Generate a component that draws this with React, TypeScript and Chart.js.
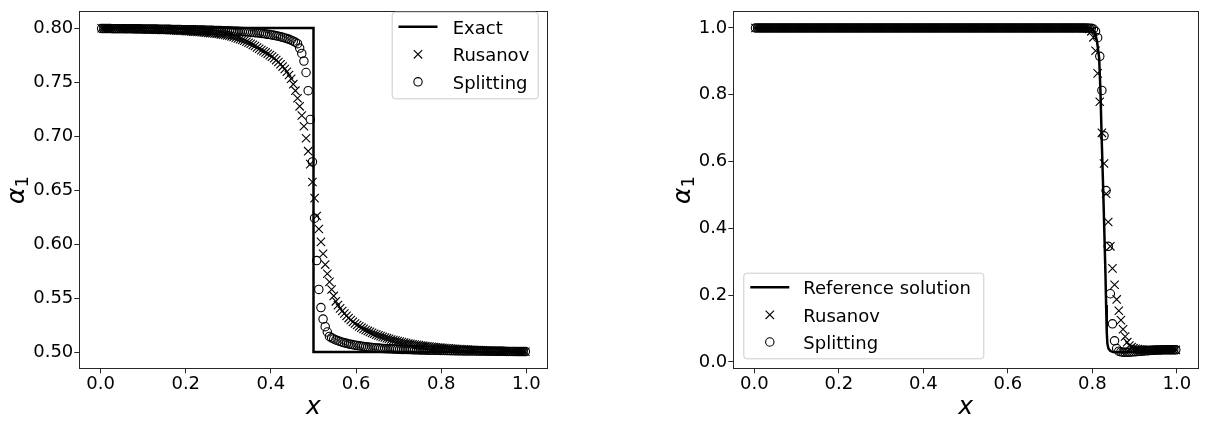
import React, { useEffect, useRef } from "react";
import { Chart, registerables } from "chart.js";

Chart.register(...registerables);

const FONT = "'DejaVu Sans', 'Liberation Sans', sans-serif";
const H = 421;

// ---------- data ----------
const xGrid = [
  0.0025, 0.0075, 0.0125, 0.0175, 0.0225, 0.0275, 0.0325, 0.0375, 0.0425, 0.0475,
  0.0525, 0.0575, 0.0625, 0.0675, 0.0725, 0.0775, 0.0825, 0.0875, 0.0925, 0.0975,
  0.1025, 0.1075, 0.1125, 0.1175, 0.1225, 0.1275, 0.1325, 0.1375, 0.1425, 0.1475,
  0.1525, 0.1575, 0.1625, 0.1675, 0.1725, 0.1775, 0.1825, 0.1875, 0.1925, 0.1975,
  0.2025, 0.2075, 0.2125, 0.2175, 0.2225, 0.2275, 0.2325, 0.2375, 0.2425, 0.2475,
  0.2525, 0.2575, 0.2625, 0.2675, 0.2725, 0.2775, 0.2825, 0.2875, 0.2925, 0.2975,
  0.3025, 0.3075, 0.3125, 0.3175, 0.3225, 0.3275, 0.3325, 0.3375, 0.3425, 0.3475,
  0.3525, 0.3575, 0.3625, 0.3675, 0.3725, 0.3775, 0.3825, 0.3875, 0.3925, 0.3975,
  0.4025, 0.4075, 0.4125, 0.4175, 0.4225, 0.4275, 0.4325, 0.4375, 0.4425, 0.4475,
  0.4525, 0.4575, 0.4625, 0.4675, 0.4725, 0.4775, 0.4825, 0.4875, 0.4925, 0.4975,
  0.5025, 0.5075, 0.5125, 0.5175, 0.5225, 0.5275, 0.5325, 0.5375, 0.5425, 0.5475,
  0.5525, 0.5575, 0.5625, 0.5675, 0.5725, 0.5775, 0.5825, 0.5875, 0.5925, 0.5975,
  0.6025, 0.6075, 0.6125, 0.6175, 0.6225, 0.6275, 0.6325, 0.6375, 0.6425, 0.6475,
  0.6525, 0.6575, 0.6625, 0.6675, 0.6725, 0.6775, 0.6825, 0.6875, 0.6925, 0.6975,
  0.7025, 0.7075, 0.7125, 0.7175, 0.7225, 0.7275, 0.7325, 0.7375, 0.7425, 0.7475,
  0.7525, 0.7575, 0.7625, 0.7675, 0.7725, 0.7775, 0.7825, 0.7875, 0.7925, 0.7975,
  0.8025, 0.8075, 0.8125, 0.8175, 0.8225, 0.8275, 0.8325, 0.8375, 0.8425, 0.8475,
  0.8525, 0.8575, 0.8625, 0.8675, 0.8725, 0.8775, 0.8825, 0.8875, 0.8925, 0.8975,
  0.9025, 0.9075, 0.9125, 0.9175, 0.9225, 0.9275, 0.9325, 0.9375, 0.9425, 0.9475,
  0.9525, 0.9575, 0.9625, 0.9675, 0.9725, 0.9775, 0.9825, 0.9875, 0.9925, 0.9975,
];

const leftRusanov = [
  0.7998, 0.7997, 0.7997, 0.7996, 0.7996, 0.7996, 0.7996, 0.7995, 0.7995, 0.7994,
  0.7994, 0.7994, 0.7993, 0.7992, 0.7992, 0.7992, 0.7991, 0.7991, 0.799, 0.7989,
  0.7989, 0.7988, 0.7987, 0.7987, 0.7986, 0.7985, 0.7985, 0.7984, 0.7983, 0.7982,
  0.7982, 0.7981, 0.798, 0.7979, 0.7978, 0.7977, 0.7976, 0.7975, 0.7974, 0.7973,
  0.7971, 0.797, 0.7968, 0.7967, 0.7966, 0.7964, 0.7963, 0.7961, 0.7959, 0.7957,
  0.7955, 0.7953, 0.7951, 0.7949, 0.7947, 0.7944, 0.7941, 0.7938, 0.7936, 0.7932,
  0.7929, 0.7923, 0.7917, 0.7911, 0.7904, 0.7897, 0.7889, 0.7882, 0.7873, 0.7864,
  0.7854, 0.7844, 0.7833, 0.782, 0.7808, 0.7795, 0.7785, 0.7774, 0.7762, 0.7749,
  0.7735, 0.772, 0.7703, 0.7685, 0.7665, 0.7643, 0.762, 0.7595, 0.7565, 0.753,
  0.748, 0.742, 0.735, 0.7275, 0.719, 0.709, 0.698, 0.686, 0.674, 0.6575,
  0.6425, 0.626, 0.614, 0.602, 0.591, 0.581, 0.5725, 0.565, 0.558, 0.552,
  0.547, 0.5435, 0.5405, 0.538, 0.5357, 0.5335, 0.5315, 0.5297, 0.528, 0.5265,
  0.5251, 0.5238, 0.5226, 0.5215, 0.5205, 0.5196, 0.5187, 0.5178, 0.517, 0.5162,
  0.5155, 0.5148, 0.5141, 0.5135, 0.5129, 0.5123, 0.5117, 0.5112, 0.5107, 0.5102,
  0.5097, 0.5092, 0.5088, 0.5084, 0.508, 0.5076, 0.5073, 0.507, 0.5067, 0.5064,
  0.5061, 0.5058, 0.5056, 0.5053, 0.5051, 0.5049, 0.5047, 0.5045, 0.5043, 0.5041,
  0.5039, 0.5037, 0.5036, 0.5034, 0.5033, 0.5031, 0.503, 0.5029, 0.5027, 0.5026,
  0.5025, 0.5024, 0.5023, 0.5022, 0.5021, 0.502, 0.5019, 0.5018, 0.5017, 0.5016,
  0.5015, 0.5014, 0.5013, 0.5013, 0.5012, 0.5011, 0.5011, 0.501, 0.5009, 0.5009,
  0.5008, 0.5007, 0.5007, 0.5006, 0.5006, 0.5005, 0.5005, 0.5004, 0.5004, 0.5003,
];

const leftSplitting = [
  0.7995, 0.7995, 0.7995, 0.7995, 0.7995, 0.7994, 0.7994, 0.7994, 0.7994, 0.7994,
  0.7993, 0.7993, 0.7993, 0.7993, 0.7993, 0.7992, 0.7992, 0.7992, 0.7992, 0.7991,
  0.7991, 0.7991, 0.7991, 0.799, 0.799, 0.799, 0.799, 0.7989, 0.7989, 0.7989,
  0.7988, 0.7988, 0.7988, 0.7987, 0.7987, 0.7987, 0.7986, 0.7986, 0.7985, 0.7985,
  0.7985, 0.7984, 0.7984, 0.7983, 0.7983, 0.7982, 0.7982, 0.7981, 0.7981, 0.798,
  0.798, 0.7979, 0.7979, 0.7978, 0.7977, 0.7977, 0.7976, 0.7975, 0.7975, 0.7974,
  0.7973, 0.7972, 0.7971, 0.797, 0.7969, 0.7968, 0.7967, 0.7966, 0.7965, 0.7963,
  0.7961, 0.7959, 0.7957, 0.7955, 0.7953, 0.795, 0.7948, 0.7945, 0.7942, 0.7939,
  0.7936, 0.7932, 0.7928, 0.7924, 0.7919, 0.7914, 0.7908, 0.7902, 0.7895, 0.7887,
  0.7878, 0.7868, 0.7855, 0.7814, 0.7765, 0.7694, 0.7588, 0.742, 0.7153, 0.676,
  0.624, 0.5847, 0.558, 0.5412, 0.5306, 0.5235, 0.5186, 0.5145, 0.5132, 0.5122,
  0.5113, 0.5105, 0.5098, 0.5092, 0.5086, 0.5081, 0.5076, 0.5072, 0.5068, 0.5064,
  0.5061, 0.5058, 0.5055, 0.5052, 0.505, 0.5047, 0.5045, 0.5043, 0.5041, 0.5039,
  0.5037, 0.5035, 0.5034, 0.5033, 0.5032, 0.5031, 0.503, 0.5029, 0.5028, 0.5027,
  0.5026, 0.5025, 0.5025, 0.5024, 0.5023, 0.5023, 0.5022, 0.5021, 0.5021, 0.502,
  0.502, 0.5019, 0.5019, 0.5018, 0.5018, 0.5017, 0.5017, 0.5016, 0.5016, 0.5015,
  0.5015, 0.5015, 0.5014, 0.5014, 0.5013, 0.5013, 0.5013, 0.5012, 0.5012, 0.5012,
  0.5011, 0.5011, 0.5011, 0.501, 0.501, 0.501, 0.501, 0.5009, 0.5009, 0.5009,
  0.5009, 0.5008, 0.5008, 0.5008, 0.5008, 0.5007, 0.5007, 0.5007, 0.5007, 0.5007,
  0.5006, 0.5006, 0.5006, 0.5006, 0.5006, 0.5005, 0.5005, 0.5005, 0.5005, 0.5005,
];

const exactX = [0, 0.5, 0.5, 1.0];
const exactY = [0.8, 0.8, 0.5, 0.5];

const rightRusanov = [
  1, 1, 1, 1, 1, 1, 1, 1, 1, 1,
  1, 1, 1, 1, 1, 1, 1, 1, 1, 1,
  1, 1, 1, 1, 1, 1, 1, 1, 1, 1,
  1, 1, 1, 1, 1, 1, 1, 1, 1, 1,
  1, 1, 1, 1, 1, 1, 1, 1, 1, 1,
  1, 1, 1, 1, 1, 1, 1, 1, 1, 1,
  1, 1, 1, 1, 1, 1, 1, 1, 1, 1,
  1, 1, 1, 1, 1, 1, 1, 1, 1, 1,
  1, 1, 1, 1, 1, 1, 1, 1, 1, 1,
  1, 1, 1, 1, 1, 1, 1, 1, 1, 1,
  1, 1, 1, 1, 1, 1, 1, 1, 1, 1,
  1, 1, 1, 1, 1, 1, 1, 1, 1, 1,
  1, 1, 1, 1, 1, 1, 1, 1, 1, 1,
  1, 1, 1, 1, 1, 1, 1, 1, 1, 1,
  1, 1, 1, 1, 1, 1, 1, 1, 1, 1,
  1, 1, 1, 0.9999, 0.9998, 0.9996, 0.9993, 0.9985, 0.997, 0.99,
  0.972, 0.932, 0.864, 0.779, 0.686, 0.594, 0.5035, 0.419, 0.346, 0.28,
  0.231, 0.187, 0.153, 0.125, 0.0975, 0.076, 0.059, 0.049, 0.044, 0.041,
  0.039, 0.038, 0.037, 0.0365, 0.036, 0.036, 0.036, 0.036, 0.036, 0.036,
  0.036, 0.036, 0.036, 0.036, 0.036, 0.036, 0.036, 0.036, 0.036, 0.036,
];

const rightSplitting = [
  1, 1, 1, 1, 1, 1, 1, 1, 1, 1,
  1, 1, 1, 1, 1, 1, 1, 1, 1, 1,
  1, 1, 1, 1, 1, 1, 1, 1, 1, 1,
  1, 1, 1, 1, 1, 1, 1, 1, 1, 1,
  1, 1, 1, 1, 1, 1, 1, 1, 1, 1,
  1, 1, 1, 1, 1, 1, 1, 1, 1, 1,
  1, 1, 1, 1, 1, 1, 1, 1, 1, 1,
  1, 1, 1, 1, 1, 1, 1, 1, 1, 1,
  1, 1, 1, 1, 1, 1, 1, 1, 1, 1,
  1, 1, 1, 1, 1, 1, 1, 1, 1, 1,
  1, 1, 1, 1, 1, 1, 1, 1, 1, 1,
  1, 1, 1, 1, 1, 1, 1, 1, 1, 1,
  1, 1, 1, 1, 1, 1, 1, 1, 1, 1,
  1, 1, 1, 1, 1, 1, 1, 1, 1, 1,
  1, 1, 1, 1, 1, 1, 1, 1, 1, 1,
  1, 1, 1, 1, 1, 1, 1, 0.9998, 0.9995, 0.999,
  0.997, 0.99, 0.971, 0.915, 0.813, 0.677, 0.513, 0.346, 0.204, 0.114,
  0.063, 0.04, 0.032, 0.03, 0.029, 0.029, 0.029, 0.029, 0.0295, 0.03,
  0.0305, 0.031, 0.0315, 0.032, 0.0325, 0.033, 0.0335, 0.034, 0.0345, 0.035,
  0.0352, 0.0354, 0.0356, 0.036, 0.036, 0.036, 0.036, 0.036, 0.036, 0.036,
];

const refX = [0, 0.79, 0.8, 0.806, 0.811, 0.816, 0.819, 0.822, 0.8255, 0.8285, 0.831, 0.8325, 0.834, 0.8355, 0.838, 0.842, 0.849, 0.86, 0.88, 0.9, 0.95, 1.0];
const refY = [1, 1, 0.997, 0.988, 0.96, 0.91, 0.815, 0.67, 0.52, 0.38, 0.26, 0.17, 0.09, 0.055, 0.04, 0.033, 0.0295, 0.029, 0.029, 0.031, 0.035, 0.036];

const xTickValues = [0, 0.2, 0.4, 0.6, 0.8, 1.0];
const leftYTickValues = [0.5, 0.55, 0.6, 0.65, 0.7, 0.75, 0.8];
const rightYTickValues = [0, 0.2, 0.4, 0.6, 0.8, 1.0];

const leftLabels = ["Exact", "Rusanov", "Splitting"];
const rightLabels = ["Reference solution", "Rusanov", "Splitting"];

// ---------- layout ----------
type PanelCfg = {
  width: number;
  areaLeft: number; areaRight: number; areaTop: number; areaBottom: number;
  xMin: number; xMax: number; yMin: number; yMax: number;
  xTicks: number[]; yTicks: number[]; xDigits: number; yDigits: number;
  lineX: number[]; lineY: number[]; rus: number[]; spl: number[]; labels: string[];
  legend: { x: number; y: number; w: number; h: number; rows: number[]; h0: number; h1: number; textX: number };
  yTitleX: number; xTitleBaseline: number;
};

const leftPanel: PanelCfg = {
  width: 600,
  areaLeft: 79.3, areaRight: 547.7, areaTop: 2.7, areaBottom: 368.3,
  xMin: -0.05, xMax: 1.05, yMin: 0.485, yMax: 0.815,
  xTicks: xTickValues, yTicks: leftYTickValues, xDigits: 1, yDigits: 2,
  lineX: exactX, lineY: exactY, rus: leftRusanov, spl: leftSplitting, labels: leftLabels,
  legend: { x: 391.7, y: 11.7, w: 146, h: 86.6, rows: [26.8, 54.3, 81.8], h0: 398.5, h1: 437.5, textX: 452.7 },
  yTitleX: 24, xTitleBaseline: 414,
};

const rightPanel: PanelCfg = {
  width: 605,
  areaLeft: 133.3, areaRight: 602.7, areaTop: 2.7, areaBottom: 368.3,
  xMin: -0.05, xMax: 1.05, yMin: -0.0193, yMax: 1.0485,
  xTicks: xTickValues, yTicks: rightYTickValues, xDigits: 1, yDigits: 1,
  lineX: refX, lineY: refY, rus: rightRusanov, spl: rightSplitting, labels: rightLabels,
  legend: { x: 143.3, y: 272.7, w: 240, h: 85.6, rows: [287.3, 314.8, 342], h0: 150.3, h1: 189.3, textX: 203.3 },
  yTitleX: 90, xTitleBaseline: 414,
};

function roundRectPath(ctx: CanvasRenderingContext2D, x: number, y: number, w: number, h: number, r: number) {
  ctx.beginPath();
  ctx.moveTo(x + r, y);
  ctx.lineTo(x + w - r, y);
  ctx.arcTo(x + w, y, x + w, y + r, r);
  ctx.lineTo(x + w, y + h - r);
  ctx.arcTo(x + w, y + h, x + w - r, y + h, r);
  ctx.lineTo(x + r, y + h);
  ctx.arcTo(x, y + h, x, y + h - r, r);
  ctx.lineTo(x, y + r);
  ctx.arcTo(x, y, x + r, y, r);
  ctx.closePath();
}

function buildChart(canvas: HTMLCanvasElement, p: PanelCfg) {
  const tickFont = { family: FONT, size: 18 };
  const pts = (xs: number[], ys: number[]) => xs.map((x, i) => ({ x, y: ys[i] }));

  const decor = {
    id: "decor",
    afterDraw(chart: any) {
      const ctx: CanvasRenderingContext2D = chart.ctx;
      const a = chart.chartArea;
      ctx.save();
      // frame
      ctx.strokeStyle = "#262626";
      ctx.lineWidth = 1;
      const l = Math.floor(a.left) + 0.5, r = Math.floor(a.right) + 0.5;
      const t = Math.floor(a.top) + 0.5, b = Math.floor(a.bottom) + 0.5;
      ctx.strokeRect(l, t, r - l, b - t);

      // x title
      ctx.fillStyle = "#000";
      ctx.font = `italic 25px ${FONT}`;
      ctx.textAlign = "center";
      ctx.textBaseline = "alphabetic";
      ctx.fillText("x", (a.left + a.right) / 2, p.xTitleBaseline);

      // y title (alpha_1)
      ctx.save();
      ctx.translate(p.yTitleX, (a.top + a.bottom) / 2);
      ctx.rotate(-Math.PI / 2);
      ctx.textAlign = "left";
      ctx.font = `italic 25px ${FONT}`;
      const wa = ctx.measureText("α").width;
      ctx.font = `18px ${FONT}`;
      const w1 = ctx.measureText("1").width;
      const start = -(wa + w1) / 2;
      ctx.font = `italic 25px ${FONT}`;
      ctx.fillText("α", start, 0);
      ctx.font = `18px ${FONT}`;
      ctx.fillText("1", start + wa, 4);
      ctx.restore();

      // legend
      const L = p.legend;
      roundRectPath(ctx, L.x + 0.5, L.y + 0.5, L.w, L.h, 3);
      ctx.fillStyle = "rgba(255,255,255,0.8)";
      ctx.fill();
      ctx.strokeStyle = "#cccccc";
      ctx.lineWidth = 1;
      ctx.stroke();

      const cx = (L.h0 + L.h1) / 2;
      ctx.strokeStyle = "#000";
      ctx.beginPath();
      ctx.lineWidth = 2.5;
      ctx.moveTo(L.h0, L.rows[0]);
      ctx.lineTo(L.h1, L.rows[0]);
      ctx.stroke();
      const s = 4.2;
      ctx.lineWidth = 1.1;
      ctx.beginPath();
      ctx.moveTo(cx - s, L.rows[1] - s);
      ctx.lineTo(cx + s, L.rows[1] + s);
      ctx.moveTo(cx + s, L.rows[1] - s);
      ctx.lineTo(cx - s, L.rows[1] + s);
      ctx.stroke();
      ctx.beginPath();
      ctx.arc(cx, L.rows[2], 4.2, 0, Math.PI * 2);
      ctx.stroke();

      ctx.fillStyle = "#000";
      ctx.font = `18px ${FONT}`;
      ctx.textAlign = "left";
      ctx.textBaseline = "alphabetic";
      p.labels.forEach((lab, i) => ctx.fillText(lab, L.textX, L.rows[i] + 7));
      ctx.restore();
    },
  };

  return new Chart(canvas, {
    type: "scatter",
    data: {
      datasets: [
        {
          label: p.labels[0],
          data: pts(p.lineX, p.lineY),
          showLine: true,
          borderColor: "#000",
          borderWidth: 2.5,
          borderJoinStyle: "miter",
          pointRadius: 0,
          tension: 0,
          fill: false,
          order: 3,
        } as any,
        {
          label: p.labels[1],
          data: pts(xGrid, p.rus),
          showLine: false,
          pointStyle: "crossRot",
          pointRadius: 5.9,
          pointBorderColor: "#000",
          pointBorderWidth: 1.1,
          pointBackgroundColor: "rgba(0,0,0,0)",
          order: 2,
        } as any,
        {
          label: p.labels[2],
          data: pts(xGrid, p.spl),
          showLine: false,
          pointStyle: "circle",
          pointRadius: 4.2,
          pointBorderColor: "#000",
          pointBorderWidth: 1.1,
          pointBackgroundColor: "rgba(0,0,0,0)",
          order: 1,
        } as any,
      ],
    },
    options: {
      responsive: false,
      maintainAspectRatio: false,
      animation: false,
      events: [],
      layout: { padding: { left: 0, top: p.areaTop, right: p.width - p.areaRight, bottom: 0 } },
      plugins: { legend: { display: false }, tooltip: { enabled: false } },
      scales: {
        x: {
          type: "linear",
          position: "bottom",
          min: p.xMin,
          max: p.xMax,
          afterBuildTicks: (s: any) => { s.ticks = p.xTicks.map((v) => ({ value: v })); },
          afterFit: (s: any) => { s.height = H - p.areaBottom; },
          ticks: {
            font: tickFont, color: "#000", padding: 0, maxRotation: 0, autoSkip: false,
            callback: (v: any) => Number(v).toFixed(p.xDigits),
          },
          grid: { display: true, drawOnChartArea: false, drawTicks: true, tickLength: 5, color: "#262626", lineWidth: 1 },
          border: { display: false },
        },
        y: {
          type: "linear",
          position: "left",
          min: p.yMin,
          max: p.yMax,
          afterBuildTicks: (s: any) => { s.ticks = p.yTicks.map((v) => ({ value: v })); },
          afterFit: (s: any) => { s.width = p.areaLeft; },
          ticks: {
            font: tickFont, color: "#000", padding: 1, autoSkip: false,
            callback: (v: any) => Number(v).toFixed(p.yDigits),
          },
          grid: { display: true, drawOnChartArea: false, drawTicks: true, tickLength: 5, color: "#262626", lineWidth: 1 },
          border: { display: false },
        },
      },
    } as any,
    plugins: [decor as any],
  });
}

function PanelChart({ p, left }: { p: PanelCfg; left: number }) {
  const ref = useRef<HTMLCanvasElement>(null);
  useEffect(() => {
    if (!ref.current) return;
    const chart = buildChart(ref.current, p);
    return () => chart.destroy();
  }, [p]);
  return (
    <canvas
      ref={ref}
      width={p.width}
      height={H}
      style={{ position: "absolute", left, top: 0, width: p.width, height: H }}
    />
  );
}

export default function App() {
  return (
    <div style={{ position: "fixed", left: 0, top: 0, width: 1205, height: 421, background: "#fff", overflow: "hidden" }}>
      <PanelChart p={leftPanel} left={0} />
      <PanelChart p={rightPanel} left={600} />
    </div>
  );
}
